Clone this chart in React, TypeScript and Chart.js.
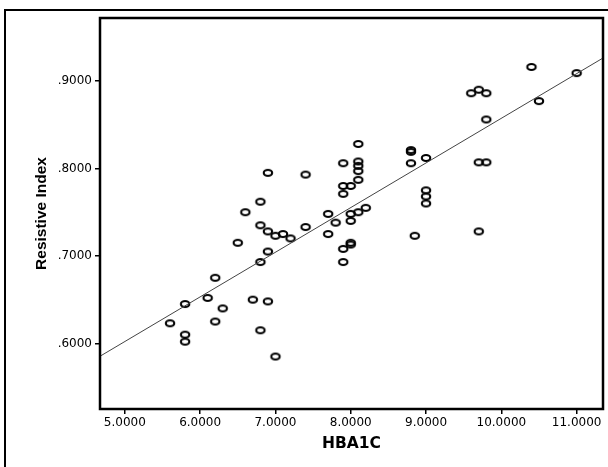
import React, { useEffect, useRef } from "react";
import { Chart, registerables } from "chart.js";

Chart.register(...registerables);

const hba1c = [
  5.6, 5.8, 5.8, 5.8, 6.1, 6.2, 6.2, 6.3, 6.5, 6.6, 6.7, 6.8, 6.8, 6.8, 6.8,
  6.9, 6.9, 6.9, 6.9, 7.0, 7.0, 7.1, 7.2, 7.4, 7.4, 7.7, 7.7, 7.8, 7.9, 7.9,
  7.9, 7.9, 7.9, 8.0, 8.0, 8.0, 8.0, 8.0, 8.1, 8.1, 8.1, 8.1, 8.1, 8.1, 8.2,
  8.8, 8.8, 8.8, 8.85, 9.0, 9.0, 9.0, 9.0, 9.6, 9.7, 9.8, 9.7, 9.8, 9.7, 9.8,
  10.4, 10.5, 11.0,
];
const resistiveIndex = [
  0.623, 0.645, 0.61, 0.602, 0.652, 0.675, 0.625, 0.64, 0.715, 0.75, 0.65,
  0.762, 0.735, 0.693, 0.615, 0.795, 0.728, 0.705, 0.648, 0.585, 0.723, 0.725,
  0.72, 0.733, 0.793, 0.748, 0.725, 0.738, 0.806, 0.78, 0.771, 0.708, 0.693,
  0.713, 0.715, 0.748, 0.74, 0.78, 0.828, 0.808, 0.803, 0.797, 0.787, 0.75,
  0.755, 0.821, 0.819, 0.806, 0.723, 0.812, 0.775, 0.768, 0.76, 0.886, 0.89,
  0.886, 0.807, 0.807, 0.728, 0.856, 0.916, 0.877, 0.909,
];
const xTicks = [5, 6, 7, 8, 9, 10, 11];
const yTicks = [0.6, 0.7, 0.8, 0.9];
const xMin = 4.67;
const xMax = 11.35;
const yMin = 0.525;
const yMax = 0.972;

function regression(xs: number[], ys: number[]) {
  const n = xs.length;
  const mx = xs.reduce((a, b) => a + b, 0) / n;
  const my = ys.reduce((a, b) => a + b, 0) / n;
  let sxy = 0;
  let sxx = 0;
  for (let i = 0; i < n; i++) {
    sxy += (xs[i] - mx) * (ys[i] - my);
    sxx += (xs[i] - mx) * (xs[i] - mx);
  }
  const slope = sxy / sxx;
  return { slope, intercept: my - slope * mx };
}

function makeRing() {
  const c = document.createElement("canvas");
  c.width = 14;
  c.height = 12;
  const ctx = c.getContext("2d")!;
  ctx.strokeStyle = "#000";
  ctx.lineWidth = 2.1;
  ctx.beginPath();
  ctx.ellipse(7, 6, 4.2, 3, 0, 0, Math.PI * 2);
  ctx.stroke();
  return c;
}

const framePlugin = {
  id: "frame",
  afterDraw(chart: any) {
    const { ctx, chartArea } = chart;
    ctx.save();
    ctx.strokeStyle = "#000";
    ctx.lineWidth = 2.5;
    ctx.strokeRect(
      chartArea.left,
      chartArea.top,
      chartArea.right - chartArea.left,
      chartArea.bottom - chartArea.top
    );
    ctx.restore();
  },
};

const tickFont = { family: "'DejaVu Sans', sans-serif", size: 12 };

export default function App() {
  const ref = useRef<HTMLCanvasElement | null>(null);

  useEffect(() => {
    if (!ref.current) return;
    const { slope, intercept } = regression(hba1c, resistiveIndex);
    const fitLine = [xMin, xMax].map((x) => ({ x, y: intercept + slope * x }));
    const points = hba1c.map((x, i) => ({ x, y: resistiveIndex[i] }));
    const ring = makeRing();

    const chart = new Chart(ref.current, {
      type: "scatter",
      data: {
        datasets: [
          {
            type: "line",
            data: fitLine,
            borderColor: "#444",
            borderWidth: 1,
            pointRadius: 0,
          } as any,
          {
            data: points,
            pointStyle: ring as any,
            pointRadius: 5,
            borderWidth: 0,
            borderColor: "#000",
            backgroundColor: "rgba(0,0,0,0)",
          },
        ],
      },
      options: {
        animation: false,
        responsive: false,
        layout: { padding: { top: 18, right: 5, left: 0, bottom: 0 } },
        plugins: { legend: { display: false }, tooltip: { enabled: false } },
        scales: {
          x: {
            type: "linear",
            min: xMin,
            max: xMax,
            afterBuildTicks: (s: any) => {
              s.ticks = xTicks.map((v) => ({ value: v }));
            },
            afterFit: (s: any) => {
              s.height = 58;
            },
            border: { display: false },
            grid: {
              drawOnChartArea: false,
              drawTicks: true,
              tickLength: 5,
              color: "#000",
              lineWidth: 1.5,
            },
            ticks: {
              color: "#000",
              padding: 2,
              maxRotation: 0,
              font: tickFont,
              callback: (v: any) => Number(v).toFixed(4),
            },
            title: {
              display: true,
              text: "HBA1C",
              color: "#000",
              padding: { top: 0, bottom: 14 },
              font: {
                family: "'DejaVu Sans', sans-serif",
                size: 15.5,
                weight: "bold",
              },
            },
          },
          y: {
            type: "linear",
            min: yMin,
            max: yMax,
            afterBuildTicks: (s: any) => {
              s.ticks = yTicks.map((v) => ({ value: v }));
            },
            afterFit: (s: any) => {
              s.width = 100;
            },
            border: { display: false },
            grid: {
              drawOnChartArea: false,
              drawTicks: true,
              tickLength: 5,
              color: "#000",
              lineWidth: 1.5,
            },
            ticks: {
              color: "#000",
              padding: 3,
              font: tickFont,
              callback: (v: any) => Number(v).toFixed(4).replace(/^0/, ""),
            },
            title: {
              display: true,
              text: "Resistive Index",
              color: "#000",
              padding: { top: 32, bottom: 0 },
              font: {
                family: "'Liberation Sans', Arial, sans-serif",
                size: 15.5,
                weight: "bold",
              },
            },
          },
        },
      },
      plugins: [framePlugin],
    });
    return () => chart.destroy();
  }, []);

  return (
    <div
      style={{
        position: "fixed",
        left: 0,
        top: 0,
        width: 608,
        height: 467,
        overflow: "hidden",
        background: "#fff",
      }}
    >
      <div
        style={{
          position: "absolute",
          left: 4,
          top: 9,
          width: 700,
          height: 600,
          border: "2px solid #000",
        }}
      />
      <canvas
        ref={ref}
        width={608}
        height={467}
        style={{ position: "absolute", left: 0, top: 0 }}
      />
    </div>
  );
}
